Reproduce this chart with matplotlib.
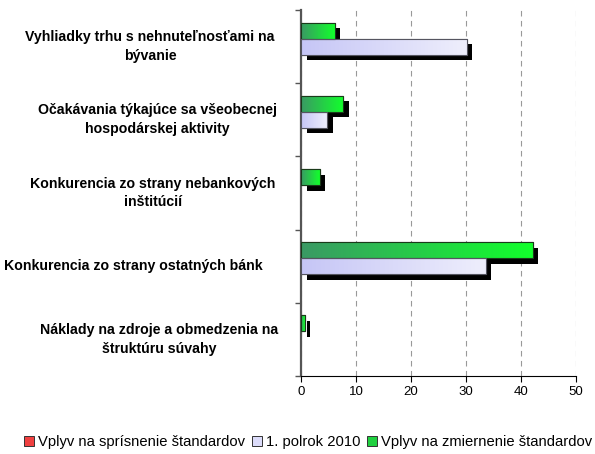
import numpy as np
import matplotlib
matplotlib.use('Agg')
import matplotlib.pyplot as plt
import matplotlib.patheffects as pe
import matplotlib.transforms as mtransforms
from matplotlib.colors import LinearSegmentedColormap
from matplotlib.patches import Patch

plt.rcParams['font.family'] = ['Liberation Sans', 'DejaVu Sans']

categories = ['Vyhliadky trhu s nehnuteľnosťami na\nbývanie',
              'Očakávania týkajúce sa všeobecnej\nhospodárskej aktivity',
              'Konkurencia zo strany nebankových\ninštitúcií',
              'Konkurencia zo strany ostatných bánk',
              'Náklady na zdroje a obmedzenia na\nštruktúru súvahy']
series_names = ['Vplyv na sprísnenie štandardov', '1. polrok 2010', 'Vplyv na zmiernenie štandardov']
tighten = [0, 0, 0, 0, 0]
h1_2010 = [30.1, 4.8, 0, 33.6, 0]
ease = [6.1, 7.7, 3.4, 42.1, 0.7]
xticks = [0, 10, 20, 30, 40, 50]

# horizontal centre of each category label (pixels)
label_cx = [150, 157, 153, 133, 159]

green_cmap = LinearSegmentedColormap.from_list('g', ['#3a9a64', '#12ff2c'])
lav_cmap = LinearSegmentedColormap.from_list('l', ['#c6c6f6', '#eeeefc'])
red_cmap = LinearSegmentedColormap.from_list('r', ['#c83030', '#ff6060'])

W, H = 595, 454
fig = plt.figure(figsize=(W / 100, H / 100), dpi=100)
ax = fig.add_axes([301 / W, 1 - 376 / H, 275 / W, 366 / H])

y = np.arange(len(categories))
bh = 0.218
shadow = [pe.SimplePatchShadow(offset=(4, -4), shadow_rgbFace='black', alpha=1.0), pe.Normal()]

def gradient_bars(vals, offs, cmap, edge):
    bars = ax.barh(y + offs, vals, height=bh, color='white', edgecolor=edge,
                   linewidth=0.8, zorder=2)
    grad = np.linspace(0, 1, 64).reshape(1, -1)
    for b, v in zip(bars, vals):
        if v <= 0:
            b.set_visible(False)
            continue
        b.set_path_effects(shadow)
        x0, y0 = b.get_x(), b.get_y()
        im = ax.imshow(grad, extent=[x0, x0 + b.get_width(), y0 + b.get_height(), y0],
                       aspect='auto', cmap=cmap, zorder=3, interpolation='bilinear')
        im.set_clip_path(b)
        ax.add_patch(plt.Rectangle((x0, y0), b.get_width(), b.get_height(),
                                   fill=False, edgecolor=edge, linewidth=0.8, zorder=4))

gradient_bars(ease, -bh, green_cmap, '#1a3a1a')
gradient_bars(h1_2010, 0, lav_cmap, '#555560')
gradient_bars(tighten, bh, red_cmap, '#333333')

ax.set_xlim(0, 50)
ax.set_ylim(len(categories) - 0.5, -0.5)
ax.set_xticks(xticks)
ax.set_xticklabels([str(t) for t in xticks], fontsize=9.5)
ax.set_yticks([])
ax.set_yticks(np.arange(-0.5, len(categories), 1), minor=True)
ax.tick_params(axis='y', which='minor', length=4, width=1, color='#555555')
ax.tick_params(axis='x', length=4, width=0.8)

trans = mtransforms.blended_transform_factory(fig.transFigure, ax.transData)
for cx, yy, lab in zip(label_cx, y, categories):
    ax.text(cx / W, yy, lab, transform=trans, ha='center', va='center',
            multialignment='center', fontsize=10.2, fontweight='bold', linespacing=1.45)

ax.grid(axis='x', linestyle=(0, (5, 4)), color='#999999', linewidth=0.8, zorder=0)
ax.set_axisbelow(True)
for s in ['top', 'right']:
    ax.spines[s].set_visible(False)
ax.spines['left'].set_color('#555555')
ax.spines['left'].set_linewidth(1.6)
ax.spines['bottom'].set_linewidth(0.8)

handles = [Patch(facecolor='#f04040', edgecolor='#333333', linewidth=0.7),
           Patch(facecolor='#dcdcfa', edgecolor='#333333', linewidth=0.7),
           Patch(facecolor='#20d040', edgecolor='#333333', linewidth=0.7)]
fig.legend(handles, series_names, loc='center', bbox_to_anchor=(308 / W, 1 - 442 / H), ncol=3,
           frameon=False, fontsize=10.6, handlelength=0.7, handleheight=0.7,
           handletextpad=0.25, columnspacing=0.45)

fig.savefig('out.png', dpi=100)
